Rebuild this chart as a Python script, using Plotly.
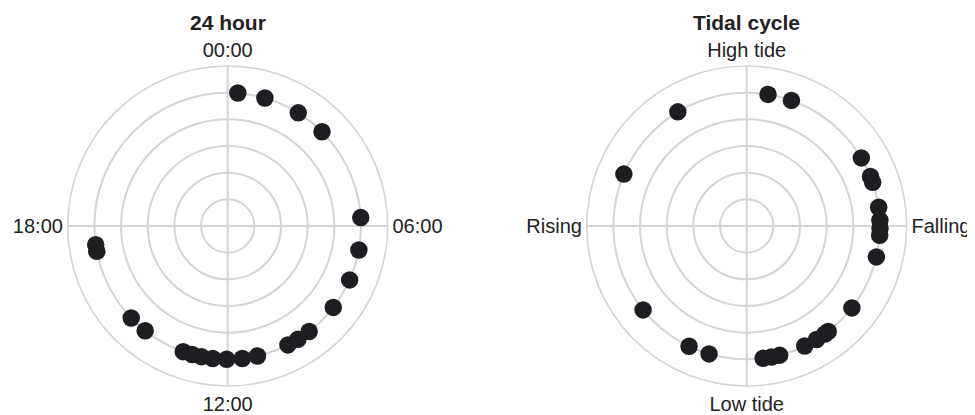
import plotly.graph_objects as go

# 24-hour clock: time of each observation (hours)
hours = [0.29, 1.08, 2.13, 3.0, 5.76, 6.69, 7.59, 8.51, 9.49, 9.88, 10.21,
         11.14, 11.58, 12.03, 12.43, 12.76, 13.03, 13.3, 14.55, 15.09, 17.27, 17.46]
hour_r = [1.0] * len(hours)
hour_tickvals = [0, 6, 12, 18]
hour_ticktext = ["00:00", "06:00", "12:00", "18:00"]

# Tidal cycle phase (degrees, 0 = high tide, clockwise)
tide_deg = [9.2, 19.6, 59.3, 68.2, 70.9, 81.9, 87.5, 91.0, 94.0, 103.4, 127.9,
            142.3, 144.1, 148.4, 154.2, 165.7, 169.3, 172.9, 196.4, 205.6, 231.0,
            292.9, 328.9]
tide_r = [1.0] * len(tide_deg)
tide_tickvals = [0, 90, 180, 270]
tide_ticktext = ["High tide", "Falling", "Low tide", "Rising"]

titles = ["24 hour", "Tidal cycle"]

marker = dict(size=17.5, color="#1e1e22", line=dict(width=0))
grid = "#d4d4d4"
font_color = "#222222"

fig = go.Figure()
fig.add_trace(go.Scatterpolar(r=hour_r, theta=[h * 15 for h in hours], mode="markers",
                              marker=marker, subplot="polar", showlegend=False))
fig.add_trace(go.Scatterpolar(r=tide_r, theta=tide_deg, mode="markers",
                              marker=marker, subplot="polar2", showlegend=False))

def polar_cfg(domx, tickvals, ticktext):
    return dict(
        domain=dict(x=domx, y=[0.0713, 0.8575]),
        bgcolor="white",
        radialaxis=dict(range=[0, 1.2], dtick=0.2, tick0=0, showticklabels=False,
                        ticks="", showline=False, gridcolor=grid, gridwidth=1.6),
        angularaxis=dict(rotation=90, direction="clockwise", tickmode="array",
                         tickvals=tickvals, ticktext=ticktext, ticks="",
                         showline=True, linecolor=grid, linewidth=1.6,
                         gridcolor=grid, gridwidth=1.6,
                         tickfont=dict(size=20, color=font_color)),
    )

# page body has an 8px margin, so the figure is sized to fill the rest of the window
fig.update_layout(
    width=967, height=407,
    margin=dict(l=0, r=0, t=0, b=0),
    paper_bgcolor="white",
    font=dict(family="Liberation Sans, Arial, sans-serif", color=font_color),
    polar=polar_cfg([0.0617, 0.3927], [v * 15 for v in hour_tickvals], hour_ticktext),
    polar2=polar_cfg([0.5984, 0.9294], tide_tickvals, tide_ticktext),
    annotations=[
        dict(text="<b>" + titles[0] + "</b>", x=0.2272, y=0.9656, xref="paper", yref="paper",
             showarrow=False, font=dict(size=21, color=font_color), xanchor="center", yanchor="middle"),
        dict(text="<b>" + titles[1] + "</b>", x=0.7639, y=0.9656, xref="paper", yref="paper",
             showarrow=False, font=dict(size=21, color=font_color), xanchor="center", yanchor="middle"),
    ],
)

fig.write_html("out.html")
